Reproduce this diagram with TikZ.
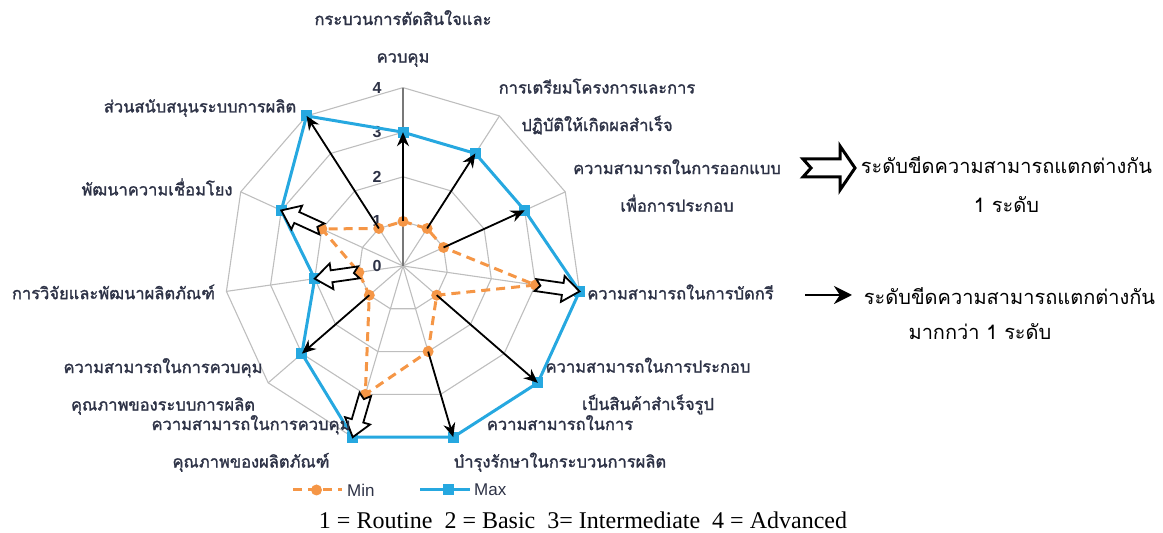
\documentclass[tikz,border=0pt]{standalone}
\usepackage{fontspec}
\setmainfont{Liberation Serif}
\setsansfont{Liberation Sans}
\newfontfamily\thai[Script=Thai]{Loma}
\newfontfamily\thaibold[Script=Thai,FakeBold=1.6]{Loma}
\usetikzlibrary{calc,arrows.meta}
\definecolor{maxblue}{RGB}{38,168,224}
\definecolor{minorange}{RGB}{245,150,70}
\definecolor{gridgray}{RGB}{190,190,190}
\definecolor{axisgray}{RGB}{120,120,120}
\definecolor{labelc}{RGB}{45,50,70}
\newcommand\hollowarrow[7]{% start, end, shaft half, head half, head length, notch, line width
  \coordinate (hh) at ($(#2)!#5!(#1)$);
  \draw[hollow,line width=#7]
    ($(#1)!#6!(#2)$) -- ($(#1)!#3!90:(#2)$) -- ($(hh)!#3!90:(#2)$) -- ($(hh)!#4!90:(#2)$)
    -- (#2) -- ($(hh)!#4!-90:(#2)$) -- ($(hh)!#3!-90:(#2)$) -- ($(#1)!#3!-90:(#2)$) -- cycle;
}
\begin{document}
\begin{tikzpicture}[x=1pt,y=1pt,
  gridline/.style={draw=gridgray,line width=1.1pt},
  axisline/.style={draw=axisgray,line width=1.4pt},
  maxline/.style={draw=maxblue,line width=3pt,line join=round},
  minline/.style={draw=minorange,line width=3pt,dash pattern=on 9pt off 6pt},
  maxmark/.style={fill=maxblue,rectangle,minimum size=11pt,inner sep=0pt},
  minmark/.style={fill=minorange,circle,minimum size=11pt,inner sep=0pt},
  thinarrow/.style={draw=black,line width=1.8pt,-{Stealth[length=14pt,width=12pt]}},
  hollow/.style={draw=black,fill=white,line join=miter},
  axlabel/.style={font=\thaibold\fontsize{16.5}{37.5}\selectfont,text=labelc,align=center,inner sep=0pt},
  ticklabel/.style={font=\sffamily\bfseries\fontsize{16}{16}\selectfont,text=labelc,inner sep=0pt},
  leglabel/.style={font=\sffamily\fontsize{17}{17}\selectfont,text=labelc,inner sep=0pt,anchor=west},
  rightlabel/.style={font=\thai\fontsize{20}{20}\selectfont,text=black,inner sep=0pt},
]
\useasboundingbox (0,0) rectangle (1163,533);
\def\u{44.6}
\begin{scope}[shift={(403,267)}]
  \coordinate (O) at (0,0);
  % rings
  \foreach \l in {1,2,3,4}{
    \draw[gridline] (90:{\l*\u}) \foreach \k in {1,...,10}{ -- ({90-\k*360/11}:{\l*\u}) } -- cycle;
  }
  % spokes
  \foreach \k in {1,...,10}{
    \draw[gridline] (O) -- ({90-\k*360/11}:{4*\u});
  }
  \coordinate (top) at (90:{4*\u});
  \draw[axisline] (O) -- (top);
  % tick labels
  \foreach \l in {0,...,4}{
    \node[ticklabel] (tick\l) at (-26,{\l*\u}) {\l};
  }
  % data points
  \foreach \k/\mn/\mx in {0/1/3,1/1/3,2/1/3,3/3/4,4/1/4,5/2/4,6/3/4,7/1/3,8/1/2,9/2/3,10/1/4}{
    \coordinate (mn\k) at ({90-\k*360/11}:{\mn*\u});
    \coordinate (mx\k) at ({90-\k*360/11}:{\mx*\u});
  }
\end{scope}
% series lines
\draw[maxline] (mx0) -- (mx1) -- (mx2) -- (mx3) -- (mx4) -- (mx5) -- (mx6) -- (mx7) -- (mx8) -- (mx9) -- (mx10) -- cycle;
\draw[minline] (mn0) -- (mn1) -- (mn2) -- (mn3) -- (mn4) -- (mn5) -- (mn6) -- (mn7) -- (mn8) -- (mn9) -- (mn10) -- cycle;
\foreach \k in {0,...,10}{
  \node[maxmark] (bm\k) at (mx\k) {};
  \node[minmark] (om\k) at (mn\k) {};
}
% arrows: difference of more than one level
\foreach \k in {0,1,2,4,5,7,10}{
  \draw[thinarrow] (mn\k) -- (mx\k);
}
% hollow arrows: difference of one level
\foreach \k in {3,6,8,9}{
  \hollowarrow{mn\k}{mx\k}{6pt}{13pt}{17pt}{5pt}{1.8pt}
}
% axis labels
\node[axlabel] (L0) at (403,494.5) {กระบวนการตัดสินใจและ\\ควบคุม};
\node[axlabel] (L1) at (597,426.5) {การเตรียมโครงการและการ\\ปฏิบัติให้เกิดผลสำเร็จ};
\node[axlabel] (L2) at (677,347.5) {ความสามารถในการออกแบบ\\เพื่อการประกอบ};
\node[axlabel] (L3) at (680.5,241) {ความสามารถในการบัดกรี};
\node[axlabel] (L4) at (648,147) {ความสามารถในการประกอบ\\เป็นสินค้าสำเร็จรูป};
\node[axlabel] (L5) at (560,89.5) {ความสามารถในการ\\บำรุงรักษาในกระบวนการผลิต};
\node[axlabel] (L6) at (251,89.5) {ความสามารถในการควบคุม\\คุณภาพของผลิตภัณฑ์};
\node[axlabel] (L7) at (163,146.5) {ความสามารถในการควบคุม\\คุณภาพของระบบการผลิต};
\node[axlabel] (L8) at (113.5,241) {การวิจัยและพัฒนาผลิตภัณฑ์};
\node[axlabel] (L9) at (157,346) {พัฒนาความเชื่อมโยง};
\node[axlabel] (L10) at (200,425) {ส่วนสนับสนุนระบบการผลิต};
% series legend
\coordinate (lmA) at (293,43);
\coordinate (lmB) at (342,43);
\draw[minline] (lmA) -- (lmB);
\node[minmark] (lmM) at (316.5,43) {};
\node[leglabel] (lmT) at (347,43) {Min};
\coordinate (lxA) at (420,43);
\coordinate (lxB) at (470,43);
\draw[maxline] (lxA) -- (lxB);
\node[maxmark] (lxM) at (448,43) {};
\node[leglabel] (lxT) at (474,43) {Max};
% level legend
\node[font=\rmfamily\fontsize{24}{24}\selectfont,inner sep=0pt,anchor=base] (levels) at (583,4.5)
  {1 = Routine\ \ 2 = Basic\ \ 3= Intermediate\ \ 4 = Advanced};
% arrow legend
\coordinate (haA) at (803,365);
\coordinate (haB) at (855,365);
\hollowarrow{haA}{haB}{9pt}{22pt}{15pt}{8pt}{3pt}
\node[rightlabel] (r1a) at (1006.5,368) {ระดับขีดความสามารถแตกต่างกัน};
\node[rightlabel] (r1b) at (1006.5,328) {1 ระดับ};
\coordinate (taA) at (805,238);
\coordinate (taB) at (852,238);
\draw[draw=black,line width=2.5pt,-{Stealth[length=18pt,width=18pt]}] (taA) -- (taB);
\node[rightlabel] (r2a) at (1009.5,237) {ระดับขีดความสามารถแตกต่างกัน};
\node[rightlabel] (r2b) at (980,201) {มากกว่า 1 ระดับ};
\end{tikzpicture}
\end{document}
